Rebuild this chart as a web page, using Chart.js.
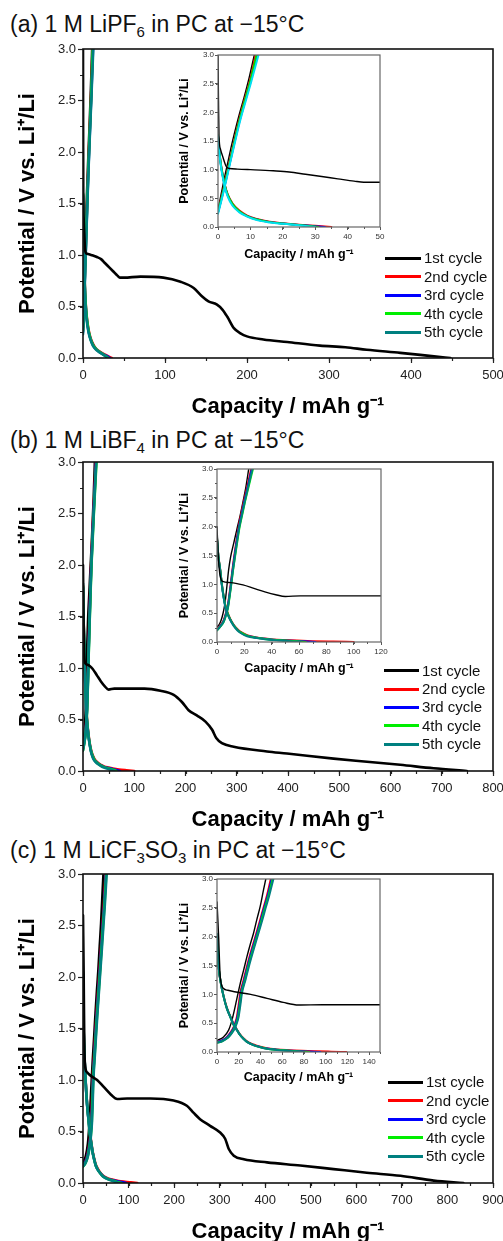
<!DOCTYPE html>
<html>
<head>
<meta charset="utf-8">
<script src="https://cdn.jsdelivr.net/npm/chart.js@4.4.0/dist/chart.umd.min.js"></script>
<style>
  body { margin: 0; background: #fff; }
  #page { position: relative; width: 503px; height: 1241px; overflow: hidden; background: #fff;
          font-family: "Liberation Sans", Arial, sans-serif; color: #111; }
  canvas { position: absolute; }
  .ttl { position: absolute; left: 10px; font-size: 23px; line-height: 23px; white-space: nowrap; }
  .ttl sub { font-size: 15px; vertical-align: -5px; line-height: 0; }
  .leg { position: absolute; font-size: 15px; }
  .leg .row { position: absolute; left: 0; height: 18px; line-height: 18px; white-space: nowrap; }
  .leg .sw { position: absolute; top: 7.5px; height: 3px; }
</style>
</head>
<body>
<div id="page">
  <div class="ttl" style="top:12.5px">(a) 1 M LiPF<sub>6</sub> in PC at &minus;15°C</div>
  <div class="ttl" style="top:428.5px">(b) 1 M LiBF<sub>4</sub> in PC at &minus;15°C</div>
  <div class="ttl" style="top:838.5px">(c) 1 M LiCF<sub>3</sub>SO<sub>3</sub> in PC at &minus;15°C</div>

  <canvas id="mainA" width="503" height="380" style="left:0;top:40px"></canvas>
  <canvas id="insetA" width="230" height="215" style="left:160px;top:47px"></canvas>
  <canvas id="mainB" width="503" height="380" style="left:0;top:453px"></canvas>
  <canvas id="insetB" width="231" height="215" style="left:160px;top:461px"></canvas>
  <canvas id="mainC" width="503" height="380" style="left:0;top:865px"></canvas>
  <canvas id="insetC" width="230" height="214" style="left:160px;top:871px"></canvas>

  <div class="leg" id="legA"></div>
  <div class="leg" id="legB"></div>
  <div class="leg" id="legC"></div>
</div>

<script>
const CYCLE_NAMES = ["1st cycle", "2nd cycle", "3rd cycle", "4th cycle", "5th cycle"];
const CYCLE_COLORS = ["#000000", "#ff0000", "#0000ff", "#00ee00", "#008080"];
const INSET_A_COLORS = ["#000000", "#ff0000", "#0000ff", "#00dd00", "#00e0f0"];
const X_TITLE = "Capacity / mAh g\u207B\u00B9";
const Y_TITLE = "Potential / V vs. Li\u207A/Li";

// [capacity mAh/g, potential V]
// (a) LiPF6
const A1_DIS = [[0,3.0],[0.15,2.2],[0.3,1.6],[0.8,1.35],[1.5,1.22],[2.5,1.06],[3.5,1.02],[6,1.01],[10,1.0],[17,0.98],[22,0.96],[27,0.92],[32,0.88],[37,0.84],[42,0.8],[45,0.78],[50,0.78],[70,0.79],[98,0.78],[119,0.74],[135,0.68],[145,0.6],[153,0.55],[163,0.52],[170,0.47],[176,0.4],[184,0.29],[192,0.24],[200,0.21],[220,0.18],[249,0.155],[289,0.12],[320,0.105],[346,0.08],[387,0.05],[428,0.016],[448,0]];
const A1_CHG = [[0,0.3],[1,0.58],[2,0.86],[3,1.12],[4,1.38],[5,1.62],[6.5,1.95],[8,2.25],[9.6,2.6],[11.2,3.0]];
const A2_DIS = [[0,1.58],[0.5,1.28],[1,1.06],[1.5,0.9],[2,0.76],[3,0.57],[4.5,0.41],[6.5,0.29],[9,0.2],[12,0.14],[16,0.09],[20,0.065],[25,0.04],[30,0.02],[35,0]];
const A2_CHG = [[0,0.27],[1,0.5],[2,0.74],[3,0.99],[4,1.25],[5,1.5],[6.5,1.86],[8,2.18],[10,2.58],[11.6,3.0]];
const A3_DIS = [[0,1.57],[0.5,1.26],[1,1.04],[1.5,0.88],[2,0.74],[3,0.55],[4.5,0.39],[6.5,0.27],[9,0.19],[12,0.13],[16,0.085],[20,0.06],[25,0.035],[30,0.015],[33,0]];
const A3_CHG = [[0,0.25],[1,0.47],[2,0.7],[3,0.95],[4,1.2],[5,1.45],[6.5,1.81],[8,2.12],[10,2.52],[12.2,3.0]];
const A4_DIS = [[0,1.6],[0.5,1.27],[1,1.05],[1.5,0.89],[2,0.75],[3,0.56],[4.5,0.4],[6.5,0.28],[9,0.19],[12,0.13],[16,0.085],[20,0.06],[25,0.033],[31,0]];
const A4_CHG = [[0,0.26],[1,0.48],[2,0.72],[3,0.97],[4,1.22],[5,1.47],[6.5,1.83],[8,2.15],[10,2.55],[11.9,3.0]];
const A5_DIS = [[0,1.59],[0.5,1.25],[1,1.02],[1.5,0.86],[2,0.72],[3,0.53],[4.5,0.37],[6.5,0.26],[9,0.18],[12,0.12],[16,0.08],[20,0.055],[25,0.03],[30,0]];
const A5_CHG = [[0,0.23],[1,0.45],[2,0.68],[3,0.93],[4,1.18],[5,1.42],[6.5,1.78],[8,2.09],[10,2.48],[12.5,3.0]];

// (b) LiBF4
const B1_DIS = [[0,2.0],[0.7,1.6],[1.5,1.3],[2.5,1.12],[4,1.05],[10,1.03],[19,0.99],[27,0.93],[35,0.87],[43,0.82],[50,0.79],[61,0.8],[90,0.8],[120,0.8],[151,0.78],[177,0.74],[193,0.67],[206,0.59],[222,0.54],[239,0.48],[252,0.4],[260,0.32],[271,0.27],[294,0.235],[359,0.19],[398,0.17],[489,0.12],[554,0.09],[619,0.06],[684,0.026],[749,0]];
const B1_CHG = [[0,0.26],[2,0.32],[3.7,0.43],[5,0.56],[6.1,0.72],[7.3,0.98],[8.5,1.25],[10,1.48],[12.2,1.71],[14.5,1.95],[17,2.2],[19,2.43],[21,2.67],[23.2,3.0]];
const B2_DIS = [[0,1.8],[1,1.5],[2.4,1.25],[3.6,1.0],[4.9,0.79],[6,0.65],[7.3,0.54],[9.5,0.41],[12.2,0.3],[15,0.22],[17,0.18],[22,0.12],[29,0.08],[35,0.06],[41,0.045],[50,0.033],[58.5,0.024],[70,0.015],[85,0.007],[100,0]];
const B2_CHG = [[0,0.22],[2.5,0.29],[4.9,0.38],[6.5,0.5],[7.8,0.62],[8.8,0.78],[9.8,0.96],[11,1.2],[12.2,1.42],[14,1.72],[15.9,2.0],[17.7,2.22],[19.5,2.42],[22,2.68],[25,3.0]];
const B3_DIS = [[0,1.78],[1,1.48],[2.4,1.23],[3.6,0.98],[4.9,0.77],[6,0.63],[7.3,0.52],[9.5,0.4],[12.2,0.29],[15,0.21],[17,0.17],[22,0.11],[29,0.075],[35,0.055],[41,0.04],[50,0.028],[58.5,0.018],[66,0.008],[72,0]];
const B3_CHG = [[0,0.21],[2.5,0.28],[5,0.37],[6.6,0.49],[7.9,0.61],[8.9,0.77],[10,0.96],[11.2,1.2],[12.4,1.41],[14.2,1.71],[16.2,2.0],[18,2.21],[19.8,2.41],[22.4,2.68],[25.5,3.0]];
const B4_DIS = [[0,1.79],[1,1.49],[2.4,1.24],[3.6,0.99],[4.9,0.78],[6,0.64],[7.3,0.53],[9.5,0.4],[12.2,0.29],[15,0.21],[17,0.17],[22,0.11],[29,0.073],[35,0.053],[41,0.038],[50,0.025],[58.5,0.012],[65,0]];
const B4_CHG = [[0,0.2],[2.5,0.27],[5.1,0.36],[6.8,0.48],[8.1,0.6],[9.1,0.76],[10.2,0.95],[11.5,1.2],[12.7,1.4],[14.6,1.7],[16.6,2.0],[18.5,2.21],[20.3,2.41],[23,2.68],[26.3,3.0]];
const B5_DIS = [[0,1.82],[1,1.5],[2.4,1.24],[3.6,0.98],[4.9,0.77],[6,0.62],[7.3,0.51],[9.5,0.39],[12.2,0.28],[15,0.2],[17,0.16],[22,0.1],[29,0.068],[35,0.048],[41,0.033],[50,0.02],[56,0.01],[61,0]];
const B5_CHG = [[0,0.2],[2.5,0.27],[5,0.36],[6.7,0.48],[8,0.6],[9,0.76],[10.1,0.95],[11.4,1.2],[12.6,1.4],[14.4,1.7],[16.4,2.0],[18.3,2.21],[20.1,2.41],[22.7,2.68],[25.9,3.0]];

// (c) LiCF3SO3
const C1_DIS = [[0,2.6],[1.5,2.0],[3,1.3],[6,1.1],[10,1.07],[16,1.045],[31,1.0],[46,0.93],[61,0.86],[75,0.815],[97,0.82],[148,0.82],[199,0.8],[228,0.75],[243,0.68],[257,0.62],[279,0.555],[301,0.49],[312,0.43],[320,0.33],[331,0.265],[353,0.23],[404,0.2],[477,0.17],[550,0.135],[623,0.1],[697,0.07],[770,0.023],[835,0]];
const C1_CHG = [[0,0.2],[6,0.26],[10.7,0.38],[13,0.5],[15.3,0.67],[18,0.9],[21.4,1.19],[24.5,1.42],[27.5,1.65],[30.5,1.86],[33.6,2.06],[36.7,2.3],[39.7,2.52],[42.8,2.81],[44.9,3.0]];
const C2_DIS = [[0,2.0],[0.7,1.72],[1.5,1.47],[3.5,1.2],[6.1,0.97],[9,0.77],[12.2,0.62],[15,0.5],[18.3,0.39],[21,0.31],[24.4,0.24],[28,0.18],[33.6,0.13],[40,0.09],[45.8,0.065],[55,0.045],[64,0.033],[78,0.02],[92,0.012],[105,0.006],[119,0]];
const C2_CHG = [[0,0.17],[4.6,0.2],[9.2,0.26],[12.5,0.34],[15.3,0.43],[17,0.52],[18.3,0.61],[19.8,0.8],[21.4,1.02],[24.5,1.25],[27.5,1.48],[30.5,1.69],[33.6,1.89],[36.7,2.09],[39.7,2.29],[42.8,2.5],[45.8,2.7],[49.5,3.0]];
const C3_DIS = [[0,2.02],[0.7,1.73],[1.5,1.47],[3.5,1.2],[6.1,0.96],[9,0.76],[12.2,0.61],[15,0.49],[18.3,0.38],[21,0.3],[24.4,0.23],[28,0.17],[33.6,0.12],[40,0.085],[45.8,0.06],[55,0.04],[64,0.028],[78,0.015],[88,0.006],[95,0]];
const C3_CHG = [[0,0.17],[4.8,0.2],[9.6,0.26],[13,0.34],[15.8,0.43],[17.5,0.52],[18.8,0.61],[20.4,0.8],[22,1.02],[25.1,1.25],[28.1,1.48],[31.1,1.69],[34.2,1.89],[37.3,2.09],[40.3,2.29],[43.4,2.5],[46.5,2.7],[50.3,3.0]];
const C4_DIS = [[0,2.03],[0.7,1.74],[1.5,1.48],[3.5,1.2],[6.1,0.96],[9,0.76],[12.2,0.61],[15,0.48],[18.3,0.38],[21,0.3],[24.4,0.23],[28,0.17],[33.6,0.12],[40,0.083],[45.8,0.058],[55,0.038],[64,0.025],[75,0.01],[85,0]];
const C4_CHG = [[0,0.16],[5,0.19],[10,0.25],[13.4,0.33],[16.2,0.42],[18,0.51],[19.3,0.6],[20.9,0.8],[22.5,1.02],[25.7,1.25],[28.7,1.48],[31.8,1.69],[34.9,1.89],[38,2.09],[41,2.29],[44.1,2.5],[47.2,2.7],[51.1,3.0]];
const C5_DIS = [[0,2.05],[0.7,1.75],[1.5,1.48],[3.5,1.2],[6.1,0.96],[9,0.76],[12.2,0.61],[15,0.48],[18.3,0.38],[21,0.3],[24.4,0.23],[28,0.17],[33.6,0.12],[40,0.082],[45.8,0.056],[55,0.035],[64,0.022],[72,0.01],[80,0]];
const C5_CHG = [[0,0.16],[5.2,0.19],[10.3,0.25],[13.8,0.33],[16.6,0.42],[18.4,0.51],[19.8,0.6],[21.4,0.8],[23,1.02],[26.2,1.25],[29.3,1.48],[32.4,1.69],[35.5,1.89],[38.6,2.09],[41.7,2.29],[44.8,2.5],[47.9,2.7],[51.9,3.0]];

const CURVES_A = [[A1_DIS, A1_CHG], [A2_DIS, A2_CHG], [A3_DIS, A3_CHG], [A4_DIS, A4_CHG], [A5_DIS, A5_CHG]];
const CURVES_B = [[B1_DIS, B1_CHG], [B2_DIS, B2_CHG], [B3_DIS, B3_CHG], [B4_DIS, B4_CHG], [B5_DIS, B5_CHG]];
const CURVES_C = [[C1_DIS, C1_CHG], [C2_DIS, C2_CHG], [C3_DIS, C3_CHG], [C4_DIS, C4_CHG], [C5_DIS, C5_CHG]];

Chart.defaults.font.family = "'Liberation Sans', Arial, sans-serif";

function pts(arr) {
  return arr.map(p => ({ x: p[0], y: p[1] }));
}

function cycleSets(curves, colors, widths) {
  const sets = [];
  curves.forEach((pair, i) => {
    pair.forEach((arr, k) => {
      // 1st discharge on top, 1st charge underneath, then 5th over 4th over ...
      let order = 6 - i;
      if (i === 0) order = k === 0 ? 0 : 7;
      sets.push({
        label: CYCLE_NAMES[i],
        data: pts(arr),
        borderColor: colors[i],
        backgroundColor: colors[i],
        borderWidth: widths[i],
        order: order
      });
    });
  });
  return sets;
}

// box on all four sides plus the short minor ticks
const framePlugin = {
  id: "frame",
  afterDatasetsDraw(chart, args, o) {
    const { ctx, chartArea: a } = chart;
    const xs = chart.scales.x, ys = chart.scales.y;
    ctx.save();
    ctx.strokeStyle = o.tickColor;
    ctx.lineWidth = o.tickWidth;
    ctx.beginPath();
    for (let v = xs.min; v <= xs.max + 1e-9; v += o.xMinor) {
      const px = Math.round(xs.getPixelForValue(v)) + 0.5;
      ctx.moveTo(px, a.bottom);
      ctx.lineTo(px, a.bottom + o.minorLen);
    }
    for (let v = ys.min; v <= ys.max + 1e-9; v += o.yMinor) {
      const py = Math.round(ys.getPixelForValue(v)) + 0.5;
      ctx.moveTo(a.left, py);
      ctx.lineTo(a.left - o.minorLen, py);
    }
    ctx.stroke();
    ctx.strokeStyle = o.color;
    ctx.lineWidth = o.width;
    ctx.strokeRect(a.left, a.top, a.right - a.left, a.bottom - a.top);
    ctx.restore();
  }
};

function makeChart(id, sets, g) {
  new Chart(document.getElementById(id), {
    type: "line",
    data: { datasets: sets },
    options: {
      responsive: false,
      animation: false,
      elements: {
        point: { radius: 0 },
        line: { cubicInterpolationMode: "monotone", borderJoinStyle: "round", borderCapStyle: "round" }
      },
      layout: { padding: { top: g.padTop, right: g.padRight, left: 0, bottom: 0 } },
      plugins: {
        legend: { display: false },
        tooltip: { enabled: false },
        frame: {
          color: g.frameColor, width: g.frameWidth, tickColor: g.tickColor, tickWidth: g.tickWidth,
          xMinor: g.xMinor, yMinor: 0.25, minorLen: g.minorLen
        }
      },
      scales: {
        x: {
          type: "linear",
          min: 0,
          max: g.xMax,
          ticks: {
            stepSize: g.xStep, includeBounds: false, autoSkip: false, maxRotation: 0,
            font: { size: g.tickSize }, color: g.labelColor, padding: g.xPad
          },
          grid: { drawOnChartArea: false, drawTicks: true, tickLength: g.tickLen, tickWidth: g.tickWidth, tickColor: g.tickColor },
          border: { display: false },
          title: {
            display: true, text: X_TITLE, color: "#000",
            font: { size: g.titleSize, weight: "bold" }, padding: { top: 0, bottom: 0 }
          },
          afterFit: s => { s.height = g.xH; s.paddingLeft = 0; s.paddingRight = 0; }
        },
        y: {
          type: "linear",
          min: 0,
          max: 3,
          ticks: {
            stepSize: 0.5, autoSkip: false,
            font: { size: g.tickSize }, color: g.labelColor, padding: g.yPad,
            callback: v => v.toFixed(1)
          },
          grid: { drawOnChartArea: false, drawTicks: true, tickLength: g.tickLen, tickWidth: g.tickWidth, tickColor: g.tickColor },
          border: { display: false },
          title: {
            display: true, text: Y_TITLE, color: "#000",
            font: { size: g.titleSize, weight: "bold" }, padding: { top: g.yTitlePad, bottom: 0 }
          },
          afterFit: s => { s.width = g.yW; s.paddingTop = 0; s.paddingBottom = 0; }
        }
      }
    },
    plugins: [framePlugin]
  });
}

const MAIN = {
  padTop: 9, padRight: 10, xH: 62, yW: 83, tickSize: 13, titleSize: 22, xPad: 5, yPad: 2,
  yTitlePad: 15, tickLen: 5, minorLen: 3, tickWidth: 1.2, tickColor: "#222", labelColor: "#222",
  frameColor: "#111", frameWidth: 1.6, xMinor: 50
};
const INSET = {
  padTop: 8, padRight: 10, tickSize: 8, titleSize: 12.5, xPad: 2, yPad: 1,
  yTitlePad: 17, tickLen: 3, minorLen: 2, tickWidth: 1, tickColor: "#555", labelColor: "#333",
  frameColor: "#666", frameWidth: 1.2
};
const MAIN_W = [2.6, 2.6, 2.6, 2.6, 2.6];
const INSET_W = [1.4, 2, 2, 2, 2];

makeChart("mainA", cycleSets(CURVES_A, CYCLE_COLORS, MAIN_W), Object.assign({}, MAIN, { xMax: 500, xStep: 100 }));
makeChart("insetA", cycleSets(CURVES_A, INSET_A_COLORS, INSET_W), Object.assign({}, INSET, { xMax: 50, xStep: 10, xMinor: 5, xH: 35, yW: 58 }));
makeChart("mainB", cycleSets(CURVES_B, CYCLE_COLORS, MAIN_W), Object.assign({}, MAIN, { xMax: 800, xStep: 100 }));
makeChart("insetB", cycleSets(CURVES_B, CYCLE_COLORS, INSET_W), Object.assign({}, INSET, { xMax: 120, xStep: 20, xMinor: 10, xH: 34, yW: 57 }));
makeChart("mainC", cycleSets(CURVES_C, CYCLE_COLORS, MAIN_W), Object.assign({}, MAIN, { xMax: 900, xStep: 100 }));
makeChart("insetC", cycleSets(CURVES_C, CYCLE_COLORS, INSET_W), Object.assign({}, INSET, { xMax: 150, xStep: 20, xMinor: 10, xH: 33, yW: 57 }));

function buildLegend(id, left, top, lineW, rowH) {
  const box = document.getElementById(id);
  box.style.left = left + "px";
  box.style.top = top + "px";
  CYCLE_NAMES.forEach((name, i) => {
    const row = document.createElement("div");
    row.className = "row";
    row.style.top = (i * rowH) + "px";
    const sw = document.createElement("span");
    sw.className = "sw";
    sw.style.left = "0px";
    sw.style.width = lineW + "px";
    sw.style.background = CYCLE_COLORS[i];
    const tx = document.createElement("span");
    tx.style.position = "absolute";
    tx.style.left = (lineW + 3) + "px";
    tx.textContent = name;
    row.appendChild(sw);
    row.appendChild(tx);
    box.appendChild(row);
  });
}
buildLegend("legA", 385, 249, 36, 18.5);
buildLegend("legB", 384, 661.7, 35, 18.35);
buildLegend("legC", 388, 1073, 35, 18.5);
</script>
</body>
</html>
